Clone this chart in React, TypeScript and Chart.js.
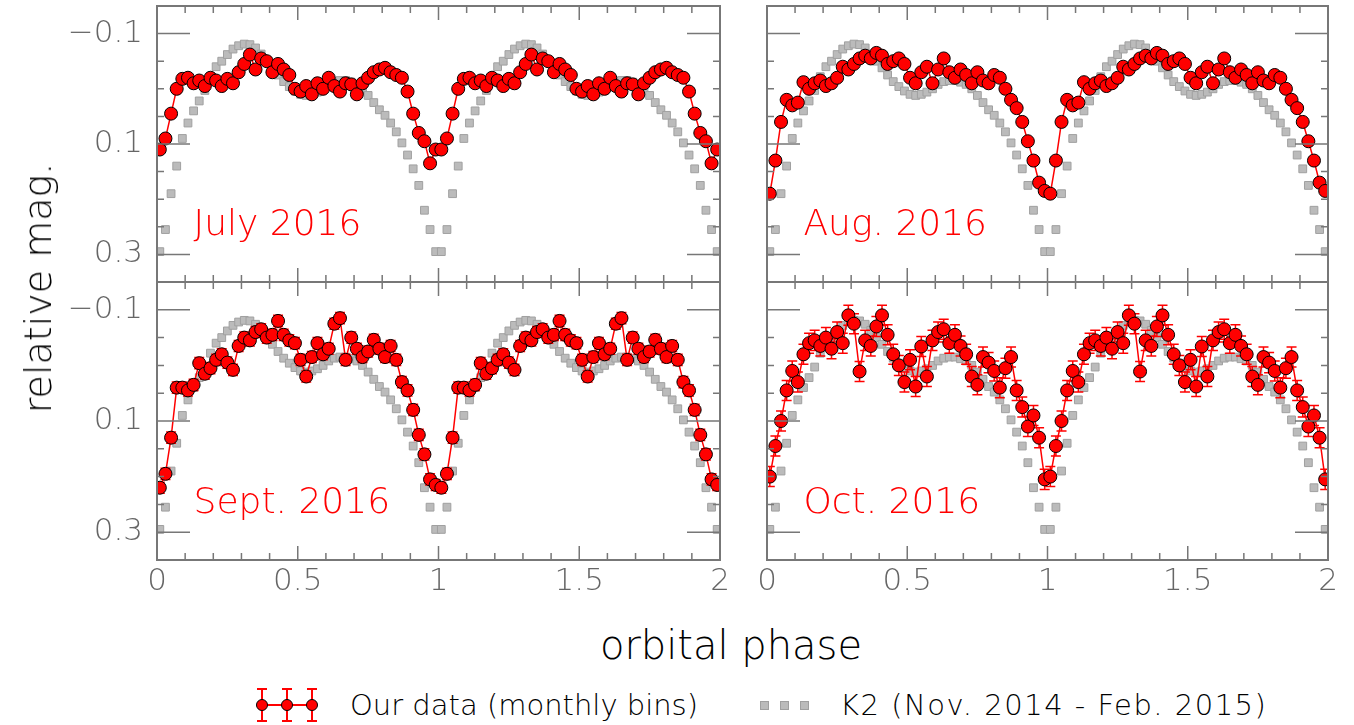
import React, { useEffect, useRef } from "react";
import { Chart, registerables } from "chart.js";
Chart.register(...registerables);

const phases = [0.01,0.03,0.05,0.07,0.09,0.11,0.13,0.15,0.17,0.19,0.21,0.23,0.25,0.27,0.29,0.31,0.33,0.35,0.37,0.39,0.41,0.43,0.45,0.47,0.49,0.51,0.53,0.55,0.57,0.59,0.61,0.63,0.65,0.67,0.69,0.71,0.73,0.75,0.77,0.79,0.81,0.83,0.85,0.87,0.89,0.91,0.93,0.95,0.97,0.99];
const k2Mag = [0.295,0.255,0.19,0.14,0.09,0.062,0.04,0.022,0.003,-0.022,-0.04,-0.05,-0.062,-0.072,-0.078,-0.081,-0.08,-0.074,-0.063,-0.05,-0.038,-0.025,-0.013,-0.004,0.004,0.01,0.012,0.01,0.006,0,-0.008,-0.013,-0.015,-0.015,-0.012,-0.008,0,0.012,0.025,0.038,0.048,0.062,0.078,0.098,0.12,0.145,0.175,0.22,0.255,0.295];
const julyMag = [0.11,0.09,0.045,0,-0.018,-0.02,-0.01,-0.015,-0.005,-0.02,-0.015,-0.005,-0.018,-0.01,-0.03,-0.045,-0.062,-0.035,-0.055,-0.05,-0.03,-0.045,-0.035,-0.025,0,0.005,-0.005,0.01,-0.01,0,-0.02,-0.005,0.005,-0.01,-0.008,0.01,-0.01,-0.02,-0.03,-0.035,-0.038,-0.03,-0.025,-0.02,0.005,0.045,0.08,0.095,0.135,0.11];
const augMag = [0.19,0.13,0.06,0.02,0.03,0.025,-0.012,0,-0.01,-0.015,-0.005,-0.01,-0.02,-0.04,-0.035,-0.045,-0.055,-0.06,-0.055,-0.065,-0.06,-0.045,-0.05,-0.055,-0.045,-0.02,-0.01,-0.03,-0.04,-0.01,-0.035,-0.055,-0.03,-0.02,-0.035,-0.025,-0.01,-0.03,-0.015,-0.01,-0.025,-0.02,0,0.02,0.035,0.06,0.095,0.13,0.17,0.185];
const septMag = [0.22,0.195,0.13,0.04,0.04,0.045,0.035,-0.004,0.015,0.005,-0.01,-0.02,-0.005,0.008,-0.035,-0.05,-0.045,-0.06,-0.065,-0.05,-0.055,-0.08,-0.055,-0.045,-0.04,-0.01,0.02,-0.015,-0.04,-0.02,-0.03,-0.075,-0.085,-0.01,-0.05,-0.03,-0.015,-0.025,-0.046,-0.03,-0.015,-0.035,-0.01,0.03,0.045,0.08,0.125,0.16,0.205,0.215];
const octMag = [0.2,0.145,0.1,0.045,0.01,0.03,-0.02,-0.04,-0.045,-0.035,-0.05,-0.03,-0.06,-0.04,-0.09,-0.075,0.011,-0.045,-0.035,-0.07,-0.09,-0.055,-0.02,0,0.03,-0.01,0.038,-0.034,0.02,-0.045,-0.06,-0.065,-0.04,-0.055,-0.035,-0.02,0.02,0.035,-0.015,-0.005,0.01,0.04,0.005,-0.015,0.045,0.075,0.11,0.09,0.13,0.205];
const errs = { july: 0.006, aug: 0.006, sept: 0.01, oct: 0.018 };
const yTickLabels = ["\u22120.1", "0.1", "0.3"];
const yTickValues = [-0.1, 0.1, 0.3];
const xTickValues = [0, 0.5, 1, 1.5, 2];
const xTickLabels = ["0", "0.5", "1", "1.5", "2"];

const FONT = "'DejaVu Sans', sans-serif";
const WEIGHT = 200;

function twoCycles(vals: number[]) {
  const a = phases.map((p, i) => ({ x: p, y: vals[i] }));
  const b = phases.map((p, i) => ({ x: p + 1, y: vals[i] }));
  return a.concat(b);
}

type PanelProps = { x0: number; y0: number; w: number; h: number; mag: number[]; err: number; label: string; showY: boolean; showX: boolean };

const PL = 150, PT = 10, PR = 20, PB = 60;

function Panel({ x0, y0, w, h, mag, err, label, showY, showX }: PanelProps) {
  const ref = useRef<HTMLCanvasElement>(null);
  useEffect(() => {
    const deco = {
      id: "deco",
      afterDatasetDraw(chart: any, args: any) {
        if (args.index !== 1) return;
        const ctx = chart.ctx;
        const xs = chart.scales.x, ys = chart.scales.y;
        const ca = chart.chartArea;
        ctx.save();
        ctx.beginPath();
        ctx.rect(ca.left, ca.top, ca.right - ca.left, ca.bottom - ca.top);
        ctx.clip();
        ctx.strokeStyle = "#ff0000";
        ctx.lineWidth = 1.5;
        chart.data.datasets[0].data.forEach((d: any) => {
          const px = xs.getPixelForValue(d.x);
          const t = ys.getPixelForValue(d.y - err), b = ys.getPixelForValue(d.y + err);
          ctx.beginPath();
          ctx.moveTo(px, t); ctx.lineTo(px, b);
          ctx.moveTo(px - 5, t); ctx.lineTo(px + 5, t);
          ctx.moveTo(px - 5, b); ctx.lineTo(px + 5, b);
          ctx.stroke();
        });
        ctx.restore();
      },
      afterDraw(chart: any) {
        const ctx = chart.ctx;
        const xs = chart.scales.x, ys = chart.scales.y;
        const ca = chart.chartArea;
        ctx.save();
        ctx.strokeStyle = "#777";
        ctx.lineWidth = 1.5;
        for (let i = 0; i <= 20; i++) {
          const v = i / 10;
          const px = xs.getPixelForValue(v);
          const len = i % 5 === 0 ? 14 : 7;
          ctx.beginPath();
          ctx.moveTo(px, ca.top); ctx.lineTo(px, ca.top + len);
          ctx.moveTo(px, ca.bottom); ctx.lineTo(px, ca.bottom - len);
          ctx.stroke();
        }
        for (let i = -3; i <= 7; i++) {
          const v = i * 0.05;
          const py = ys.getPixelForValue(v);
          if (py < ca.top + 1 || py > ca.bottom - 1) continue;
          const major = yTickValues.some((t) => Math.abs(t - v) < 1e-6);
          const len = major ? 33 : 7;
          ctx.beginPath();
          ctx.moveTo(ca.left, py); ctx.lineTo(ca.left + len, py);
          ctx.moveTo(ca.right, py); ctx.lineTo(ca.right - len, py);
          ctx.stroke();
        }
        ctx.lineWidth = 2;
        ctx.strokeRect(ca.left, ca.top, ca.right - ca.left, ca.bottom - ca.top);
        ctx.fillStyle = "#666";
        ctx.font = `${WEIGHT} 31px ${FONT}`;
        if (showY) {
          ctx.textAlign = "right";
          ctx.textBaseline = "middle";
          yTickValues.forEach((v, i) => ctx.fillText(yTickLabels[i], ca.left - 14, ys.getPixelForValue(v)));
        }
        if (showX) {
          ctx.textAlign = "center";
          ctx.textBaseline = "top";
          xTickValues.forEach((v, i) => ctx.fillText(xTickLabels[i], xs.getPixelForValue(v), ca.bottom + 6));
        }
        ctx.fillStyle = "#ff0000";
        ctx.font = `${WEIGHT} 36px ${FONT}`;
        ctx.textAlign = "left";
        ctx.textBaseline = "alphabetic";
        ctx.fillText(label, xs.getPixelForValue(0.13), ys.getPixelForValue(0.265));
        ctx.restore();
      },
    };
    const chart = new Chart(ref.current!, {
      type: "line",
      data: {
        datasets: [
          {
            data: twoCycles(mag),
            showLine: true,
            borderColor: "#ff0000",
            borderWidth: 1.5,
            pointRadius: 6.5,
            pointBackgroundColor: "#ff0000",
            pointBorderColor: "#000",
            pointBorderWidth: 1,
          },
          {
            data: twoCycles(k2Mag),
            showLine: false,
            pointStyle: "rect",
            pointRadius: 5.5,
            pointBackgroundColor: "#bbbbbb",
            pointBorderColor: "#a0a0a0",
            pointBorderWidth: 1,
          },
        ],
      } as any,
      options: {
        animation: false,
        responsive: false,
        devicePixelRatio: 1,
        layout: { padding: { left: PL, top: PT, right: PR, bottom: PB } },
        plugins: { legend: { display: false }, tooltip: { enabled: false } },
        scales: {
          x: { type: "linear", min: 0, max: 2, display: false },
          y: { type: "linear", min: -0.15, max: 0.35, reverse: true, display: false },
        },
      },
      plugins: [deco],
    });
    return () => chart.destroy();
  }, []);
  const W = w + PL + PR, H = h + PT + PB;
  return (
    <canvas ref={ref} width={W} height={H}
      style={{ position: "absolute", left: x0 - PL, top: y0 - PT, width: W, height: H }} />
  );
}

export default function App() {
  const txt = { position: "absolute" as const, fontFamily: FONT, fontWeight: WEIGHT, color: "#000", whiteSpace: "nowrap" as const };
  return (
    <div style={{ position: "absolute", left: 0, top: 0, width: 1354, height: 725, background: "#fff", overflow: "hidden" }}>
      <Panel x0={157} y0={6} w={563} h={276} mag={julyMag} err={errs.july} label="July 2016" showY showX={false} />
      <Panel x0={767} y0={6} w={561} h={276} mag={augMag} err={errs.aug} label="Aug. 2016" showY={false} showX={false} />
      <Panel x0={157} y0={282} w={563} h={278} mag={septMag} err={errs.sept} label="Sept. 2016" showY showX />
      <Panel x0={767} y0={282} w={561} h={278} mag={octMag} err={errs.oct} label="Oct. 2016" showY={false} showX />
      <div style={{ ...txt, left: 38, top: 288, fontSize: 38, transform: "translate(-50%,-50%) rotate(-90deg)" }}>relative mag.</div>
      <div style={{ ...txt, left: 731, top: 645, fontSize: 40, transform: "translate(-50%,-50%)" }}>orbital phase</div>
      <div style={{ position: "absolute", left: 258, top: 704, width: 58, height: 2, background: "#ff0000" }} />
      {[262, 287, 312].map((x) => (
        <React.Fragment key={x}>
          <div style={{ position: "absolute", left: x - 1, top: 688, width: 2, height: 34, background: "#ff0000" }} />
          <div style={{ position: "absolute", left: x - 5, top: 688, width: 10, height: 2, background: "#ff0000" }} />
          <div style={{ position: "absolute", left: x - 5, top: 720, width: 10, height: 2, background: "#ff0000" }} />
          <div style={{ position: "absolute", left: x - 6, top: 699, width: 10, height: 10, borderRadius: "50%", background: "#ff0000", border: "1px solid #000" }} />
        </React.Fragment>
      ))}
      <div style={{ ...txt, left: 350, top: 705, fontSize: 29, transform: "translateY(-50%)" }}>Our data (monthly bins)</div>
      {[764, 784, 804].map((x) => (
        <div key={x} style={{ position: "absolute", left: x - 4, top: 701, width: 7, height: 7, background: "#bbb", border: "1px solid #a0a0a0" }} />
      ))}
      <div style={{ ...txt, left: 840, top: 705, fontSize: 29, letterSpacing: 1.5, transform: "translateY(-50%)" }}>K2 (Nov. 2014 - Feb. 2015)</div>
    </div>
  );
}
